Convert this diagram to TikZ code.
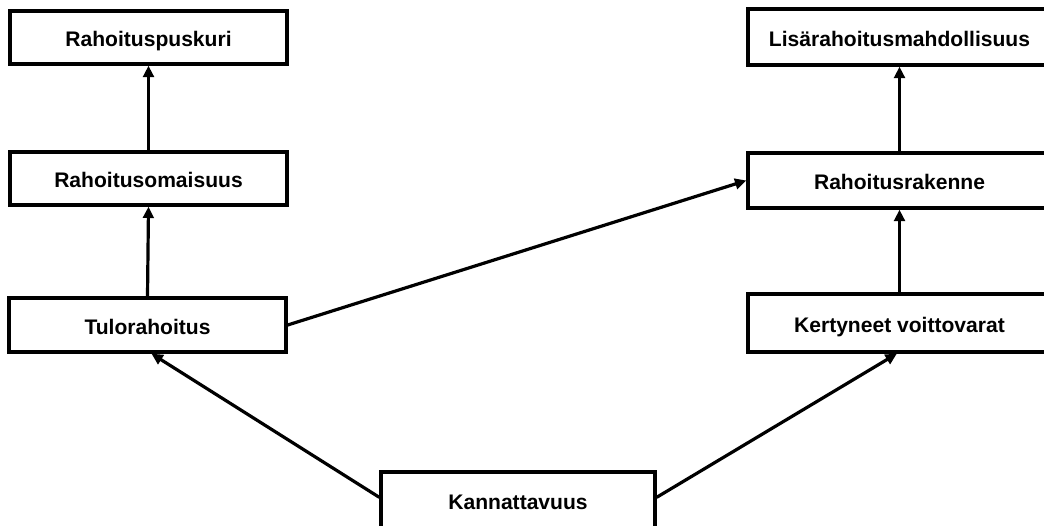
\documentclass[tikz,border=0pt]{standalone}
\usepackage{fontspec}
\setmainfont{Liberation Sans}
\usetikzlibrary{arrows.meta}
\begin{document}
\begin{tikzpicture}[x=0.75pt,y=-0.75pt,
  box/.style={draw=black, line width=2.5pt, fill=white, inner sep=0pt,
    text height=13.5pt, text depth=0pt,
    font=\fontsize{15.8pt}{18pt}\selectfont\bfseries},
  conn/.style={line width=2.4pt, -{Triangle[length=8.5pt,width=8pt]}}]
\useasboundingbox[fill=white] (0,0) rectangle (1044,525);
\node[box, minimum width=207.75pt, minimum height=39.75pt] (A) at (148.5,37.5) {Rahoituspuskuri};
\node[box, minimum width=207.75pt, minimum height=39.75pt] (B) at (148.5,178.5) {Rahoitusomaisuus};
\node[box, minimum width=207.75pt, minimum height=40.5pt] (C) at (147.5,325) {Tulorahoitus};
\node[box, minimum width=227.25pt, minimum height=42pt] (D) at (899.5,37) {Lisärahoitusmahdollisuus};
\node[box, minimum width=227.25pt, minimum height=41.25pt] (E) at (899.5,180.5) {Rahoitusrakenne};
\node[box, minimum width=227.25pt, minimum height=43.5pt] (F) at (899.5,323) {Kertyneet voittovarat};
\node[box, minimum width=205.5pt, minimum height=42pt] (G) at (518,500) {Kannattavuus};
\draw[conn] (B.north) -- (A.south);
\draw[conn] (C.north) -- (B.south);
\draw[conn] (E.north) -- (D.south);
\draw[conn] (F.north) -- (E.south);
\draw[conn] (C.east) -- (E.west);
\draw[conn] ([yshift=2pt]G.west) -- ([xshift=3pt]C.south);
\draw[conn] ([yshift=2pt]G.east) -- ([xshift=-2pt]F.south);
\end{tikzpicture}
\end{document}
